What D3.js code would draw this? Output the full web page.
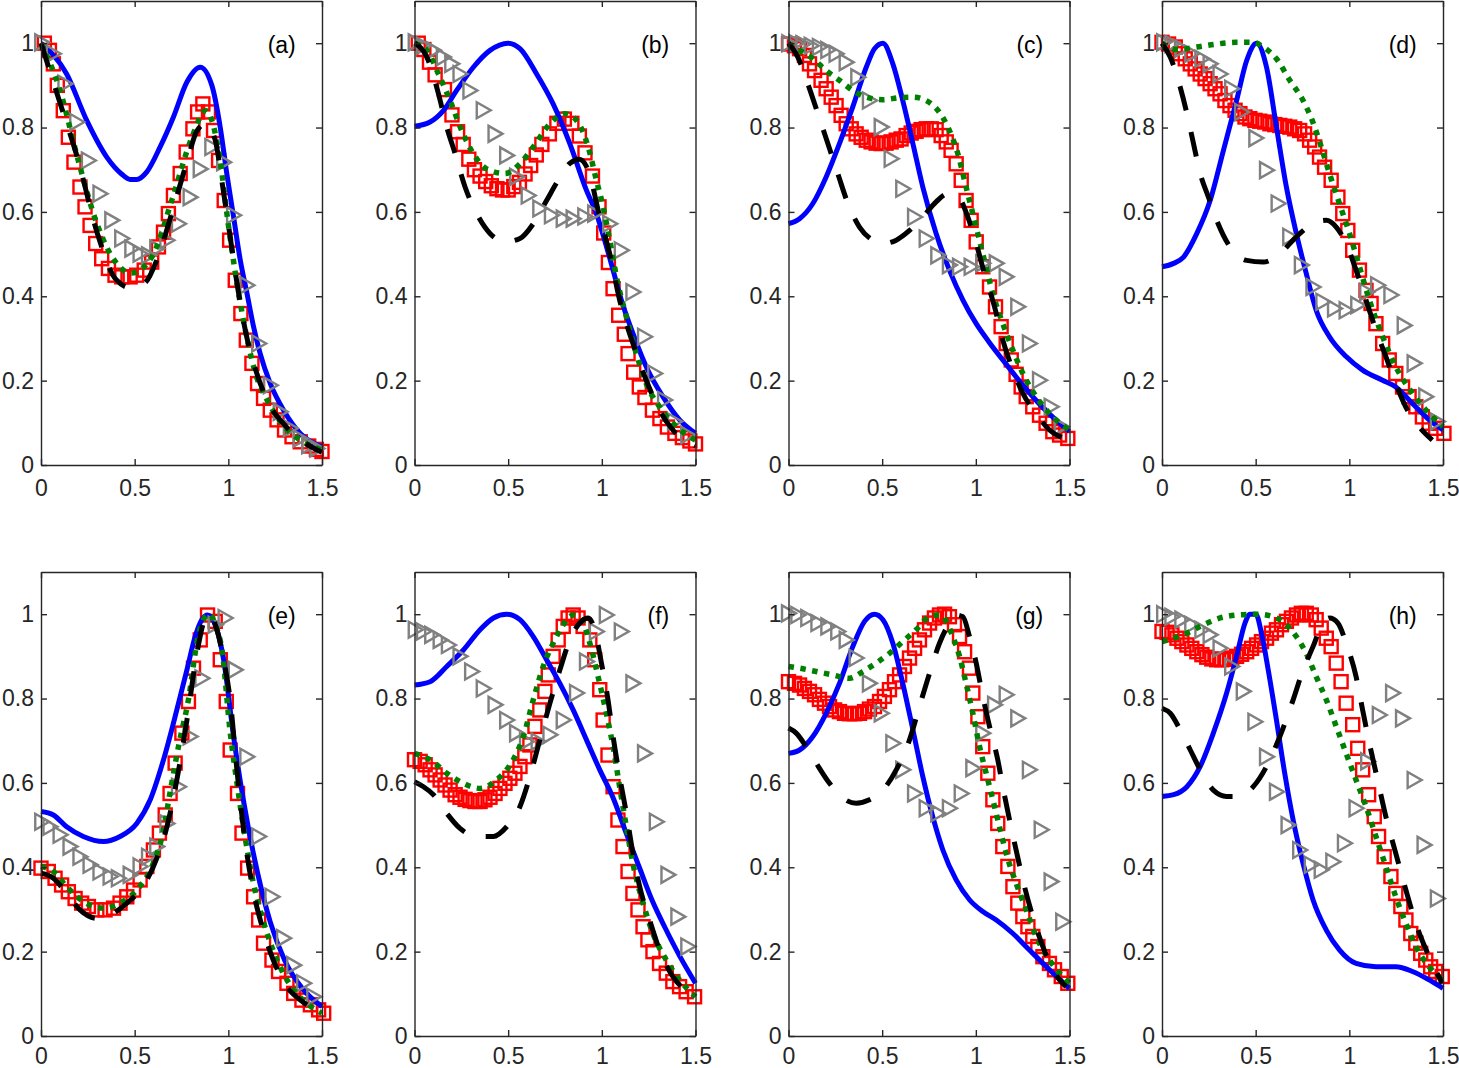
<!DOCTYPE html>
<html><head><meta charset="utf-8">
<script src="https://cdn.jsdelivr.net/npm/d3@7"></script>
<style>body{margin:0;background:#fff}</style>
</head><body><svg id="chart" width="1459" height="1068"></svg>
<script>
// ---------- tick definitions ----------
const xTicks = [0, 0.5, 1, 1.5];
const xTickLabels = ["0", "0.5", "1", "1.5"];
const yTicks = [0, 0.2, 0.4, 0.6, 0.8, 1];
const yTickLabels = ["0", "0.2", "0.4", "0.6", "0.8", "1"];
const panelLabels = ["(a)", "(b)", "(c)", "(d)", "(e)", "(f)", "(g)", "(h)"];

// ---------- panel (a) ----------
const blueA = [[0,1.0],[0.137,0.927],[0.244,0.817],[0.351,0.73],[0.43,0.69],[0.476,0.677],[0.511,0.677],[0.565,0.695],[0.636,0.754],[0.707,0.825],[0.779,0.908],[0.85,0.943],[0.912,0.9],[0.957,0.8],[0.992,0.69],[1.028,0.588],[1.064,0.485],[1.1,0.406],[1.135,0.327],[1.17,0.264],[1.224,0.193],[1.295,0.13],[1.384,0.075],[1.5,0.043]];
const blackA = [[0,1.0],[0.093,0.87],[0.2,0.72],[0.3,0.55],[0.4,0.44],[0.48,0.42],[0.55,0.43],[0.63,0.5],[0.7,0.6],[0.78,0.72],[0.83,0.79],[0.88,0.81],[0.93,0.77],[0.97,0.66],[1.01,0.54],[1.05,0.42],[1.1,0.3],[1.15,0.22],[1.2,0.16],[1.3,0.095],[1.4,0.055],[1.5,0.03]];
const greenA = [[0,1.0],[0.1,0.89],[0.2,0.72],[0.3,0.57],[0.4,0.48],[0.48,0.455],[0.55,0.47],[0.6,0.5],[0.7,0.63],[0.8,0.77],[0.88,0.84],[0.95,0.74],[1.0,0.57],[1.05,0.42],[1.1,0.3],[1.15,0.21],[1.2,0.16],[1.3,0.09],[1.4,0.055],[1.5,0.035]];
const redA = [[0.018,1.0],[0.045,0.983],[0.066,0.951],[0.087,0.9],[0.119,0.84],[0.146,0.777],[0.176,0.718],[0.208,0.659],[0.235,0.612],[0.262,0.568],[0.292,0.525],[0.324,0.489],[0.36,0.466],[0.395,0.45],[0.431,0.446],[0.476,0.446],[0.511,0.45],[0.551,0.462],[0.591,0.481],[0.627,0.517],[0.654,0.552],[0.68,0.596],[0.707,0.639],[0.743,0.691],[0.775,0.742],[0.811,0.797],[0.836,0.837],[0.864,0.856],[0.894,0.837],[0.921,0.793],[0.948,0.722],[0.978,0.627],[1.007,0.533],[1.037,0.438],[1.067,0.359],[1.096,0.296],[1.126,0.241],[1.156,0.193],[1.188,0.158],[1.224,0.13],[1.26,0.107],[1.3,0.083],[1.34,0.067],[1.384,0.055],[1.429,0.045],[1.47,0.037],[1.5,0.032]];
const triA = [[0.004,1.002],[0.066,0.975],[0.128,0.904],[0.191,0.813],[0.253,0.722],[0.315,0.643],[0.378,0.58],[0.431,0.537],[0.485,0.513],[0.529,0.501],[0.574,0.497],[0.618,0.513],[0.672,0.533],[0.734,0.572],[0.796,0.635],[0.85,0.702],[0.912,0.754],[0.975,0.718],[1.028,0.592],[1.099,0.426],[1.162,0.288],[1.224,0.189],[1.277,0.126],[1.331,0.087],[1.384,0.063],[1.429,0.047],[1.473,0.039]];

// ---------- panel (b) ----------
const blueB = [[0,0.803],[0.083,0.813],[0.154,0.84],[0.225,0.888],[0.314,0.943],[0.403,0.983],[0.5,1.0],[0.563,0.987],[0.652,0.927],[0.74,0.856],[0.829,0.762],[0.918,0.651],[0.971,0.596],[1.015,0.533],[1.06,0.462],[1.104,0.391],[1.166,0.312],[1.237,0.233],[1.326,0.162],[1.415,0.107],[1.5,0.075]];
const blackB = [[0,1.0],[0.066,0.967],[0.128,0.88],[0.172,0.801],[0.217,0.738],[0.27,0.659],[0.332,0.596],[0.403,0.549],[0.483,0.529],[0.563,0.537],[0.634,0.572],[0.705,0.627],[0.767,0.675],[0.829,0.715],[0.88,0.725],[0.927,0.699],[0.989,0.588],[1.042,0.501],[1.095,0.391],[1.166,0.288],[1.237,0.201],[1.308,0.13],[1.379,0.083],[1.5,0.045]];
const greenB = [[0,1.0],[0.066,0.983],[0.128,0.927],[0.19,0.864],[0.252,0.793],[0.314,0.738],[0.385,0.702],[0.483,0.691],[0.563,0.714],[0.634,0.754],[0.723,0.809],[0.802,0.833],[0.865,0.817],[0.927,0.754],[0.971,0.675],[1.007,0.612],[1.042,0.533],[1.078,0.446],[1.131,0.351],[1.184,0.264],[1.237,0.193],[1.308,0.138],[1.379,0.099],[1.5,0.059]];
const redB = [[0.02,1.0],[0.05,0.985],[0.08,0.955],[0.11,0.925],[0.16,0.89],[0.2,0.83],[0.23,0.79],[0.26,0.76],[0.29,0.725],[0.32,0.7],[0.35,0.685],[0.38,0.672],[0.41,0.662],[0.44,0.655],[0.47,0.652],[0.5,0.652],[0.53,0.66],[0.56,0.67],[0.59,0.69],[0.62,0.71],[0.65,0.735],[0.68,0.76],[0.72,0.785],[0.76,0.81],[0.8,0.82],[0.84,0.81],[0.88,0.78],[0.91,0.74],[0.95,0.685],[0.985,0.612],[1.01,0.55],[1.035,0.48],[1.06,0.418],[1.09,0.355],[1.12,0.31],[1.14,0.264],[1.17,0.22],[1.2,0.185],[1.23,0.16],[1.27,0.13],[1.31,0.11],[1.35,0.09],[1.39,0.075],[1.43,0.065],[1.47,0.057],[1.5,0.05]];
const triB = [[0.004,1.002],[0.048,0.994],[0.101,0.983],[0.154,0.967],[0.199,0.951],[0.243,0.927],[0.296,0.888],[0.367,0.841],[0.43,0.785],[0.492,0.734],[0.545,0.683],[0.607,0.639],[0.669,0.608],[0.731,0.592],[0.794,0.584],[0.847,0.584],[0.909,0.589],[0.962,0.596],[1.042,0.572],[1.104,0.509],[1.166,0.41],[1.228,0.304],[1.282,0.217],[1.335,0.154],[1.388,0.103],[1.459,0.071]];

// ---------- panel (c) ----------
const blueC = [[0,0.572],[0.059,0.584],[0.13,0.62],[0.201,0.683],[0.272,0.762],[0.343,0.849],[0.415,0.943],[0.459,0.987],[0.504,1.0],[0.557,0.951],[0.61,0.864],[0.664,0.762],[0.717,0.659],[0.788,0.549],[0.859,0.462],[0.931,0.391],[1.002,0.335],[1.073,0.29],[1.16,0.24],[1.25,0.19],[1.36,0.135],[1.5,0.079]];
const blackC = [[0,1.0],[0.05,0.967],[0.103,0.904],[0.157,0.833],[0.21,0.762],[0.263,0.691],[0.317,0.62],[0.379,0.564],[0.45,0.533],[0.504,0.525],[0.575,0.533],[0.646,0.556],[0.717,0.588],[0.788,0.624],[0.851,0.643],[0.913,0.631],[0.957,0.588],[1.002,0.525],[1.046,0.454],[1.1,0.375],[1.144,0.296],[1.198,0.225],[1.251,0.17],[1.322,0.122],[1.393,0.083],[1.5,0.06]];
const greenC = [[0,1.0],[0.059,0.983],[0.13,0.963],[0.201,0.935],[0.272,0.912],[0.343,0.888],[0.415,0.872],[0.504,0.866],[0.593,0.871],[0.664,0.872],[0.735,0.864],[0.797,0.841],[0.859,0.793],[0.904,0.738],[0.948,0.659],[0.993,0.58],[1.037,0.501],[1.091,0.406],[1.144,0.335],[1.198,0.272],[1.251,0.217],[1.322,0.162],[1.393,0.122],[1.5,0.083]];
const redC = [[0,0.998],[0.032,0.994],[0.059,0.987],[0.085,0.971],[0.112,0.951],[0.139,0.935],[0.174,0.912],[0.201,0.892],[0.228,0.872],[0.254,0.852],[0.281,0.829],[0.308,0.809],[0.335,0.797],[0.361,0.785],[0.388,0.777],[0.415,0.77],[0.441,0.766],[0.468,0.763],[0.495,0.762],[0.521,0.763],[0.548,0.766],[0.575,0.77],[0.601,0.773],[0.628,0.781],[0.655,0.787],[0.681,0.791],[0.708,0.795],[0.735,0.797],[0.762,0.797],[0.788,0.795],[0.815,0.781],[0.842,0.766],[0.868,0.746],[0.895,0.714],[0.922,0.675],[0.948,0.627],[0.975,0.58],[1.002,0.529],[1.037,0.47],[1.073,0.422],[1.105,0.375],[1.135,0.328],[1.162,0.288],[1.189,0.249],[1.215,0.215],[1.242,0.185],[1.269,0.162],[1.304,0.138],[1.34,0.118],[1.375,0.099],[1.411,0.079],[1.447,0.071],[1.491,0.063]];
const triC = [[0.002,1.0],[0.041,1.0],[0.077,0.998],[0.121,0.994],[0.165,0.991],[0.21,0.984],[0.254,0.975],[0.308,0.955],[0.37,0.919],[0.432,0.864],[0.495,0.801],[0.548,0.726],[0.61,0.655],[0.673,0.588],[0.735,0.537],[0.797,0.497],[0.859,0.474],[0.913,0.47],[0.975,0.47],[1.037,0.478],[1.109,0.478],[1.162,0.446],[1.224,0.375],[1.286,0.288],[1.34,0.201],[1.402,0.138],[1.456,0.091]];

// ---------- panel (d) ----------
const blueD = [[0,0.47],[0.062,0.478],[0.115,0.493],[0.186,0.549],[0.257,0.627],[0.328,0.746],[0.398,0.864],[0.452,0.959],[0.505,1.0],[0.558,0.943],[0.611,0.801],[0.664,0.659],[0.717,0.549],[0.77,0.454],[0.823,0.367],[0.894,0.304],[0.983,0.257],[1.071,0.225],[1.177,0.201],[1.248,0.185],[1.337,0.146],[1.426,0.107],[1.5,0.083]];
const blackD = [[0,1.0],[0.044,0.967],[0.097,0.896],[0.133,0.833],[0.168,0.762],[0.204,0.691],[0.248,0.635],[0.292,0.58],[0.363,0.517],[0.452,0.485],[0.54,0.481],[0.629,0.501],[0.717,0.541],[0.806,0.572],[0.877,0.58],[0.93,0.564],[0.983,0.525],[1.036,0.462],[1.089,0.391],[1.142,0.32],[1.195,0.257],[1.248,0.193],[1.301,0.138],[1.372,0.091],[1.443,0.059]];
const greenD = [[0,1.0],[0.08,0.985],[0.186,0.991],[0.292,0.998],[0.398,1.002],[0.487,1.002],[0.54,0.991],[0.611,0.963],[0.682,0.912],[0.753,0.864],[0.806,0.812],[0.85,0.754],[0.894,0.691],[0.947,0.62],[1.001,0.549],[1.054,0.47],[1.107,0.391],[1.178,0.304],[1.248,0.233],[1.337,0.17],[1.426,0.122],[1.5,0.091]];
const redD = [[0,1.002],[0.035,0.998],[0.071,0.991],[0.097,0.975],[0.124,0.963],[0.151,0.951],[0.177,0.939],[0.204,0.927],[0.23,0.916],[0.257,0.904],[0.283,0.892],[0.31,0.88],[0.336,0.864],[0.363,0.852],[0.39,0.841],[0.416,0.833],[0.443,0.825],[0.469,0.821],[0.496,0.817],[0.522,0.815],[0.549,0.813],[0.576,0.809],[0.602,0.807],[0.629,0.805],[0.655,0.803],[0.682,0.801],[0.708,0.797],[0.735,0.793],[0.761,0.785],[0.788,0.77],[0.815,0.754],[0.841,0.73],[0.868,0.706],[0.903,0.675],[0.939,0.635],[0.965,0.596],[0.992,0.556],[1.018,0.509],[1.054,0.462],[1.089,0.414],[1.116,0.383],[1.142,0.335],[1.178,0.288],[1.213,0.249],[1.248,0.217],[1.284,0.185],[1.319,0.162],[1.355,0.138],[1.39,0.114],[1.426,0.099],[1.461,0.087],[1.505,0.075]];
const triD = [[0.009,1.002],[0.053,0.998],[0.106,0.987],[0.159,0.975],[0.213,0.963],[0.257,0.951],[0.31,0.927],[0.372,0.892],[0.425,0.837],[0.501,0.775],[0.558,0.699],[0.62,0.62],[0.682,0.541],[0.744,0.474],[0.806,0.422],[0.859,0.387],[0.921,0.371],[0.983,0.367],[1.045,0.379],[1.093,0.41],[1.151,0.426],[1.222,0.403],[1.293,0.331],[1.346,0.241],[1.408,0.162],[1.47,0.103]];

// ---------- panel (e) ----------
const blueE = [[0,0.532],[0.066,0.524],[0.137,0.496],[0.226,0.473],[0.333,0.461],[0.422,0.473],[0.511,0.504],[0.583,0.56],[0.654,0.655],[0.725,0.773],[0.779,0.868],[0.823,0.947],[0.859,0.987],[0.889,0.998],[0.93,0.975],[0.975,0.892],[1.028,0.71],[1.08,0.56],[1.135,0.43],[1.224,0.27],[1.3,0.18],[1.4,0.11],[1.5,0.07]];
const blackE = [[0,0.386],[0.066,0.374],[0.137,0.338],[0.208,0.299],[0.298,0.279],[0.387,0.291],[0.458,0.315],[0.529,0.346],[0.6,0.402],[0.672,0.496],[0.725,0.607],[0.779,0.749],[0.832,0.907],[0.877,0.99],[0.903,0.998],[0.939,0.963],[0.975,0.892],[1.01,0.797],[1.046,0.63],[1.09,0.46],[1.135,0.34],[1.18,0.26],[1.24,0.18],[1.3,0.125],[1.4,0.08],[1.5,0.055]];
const greenE = [[0,0.402],[0.066,0.39],[0.137,0.354],[0.226,0.319],[0.333,0.303],[0.422,0.315],[0.511,0.346],[0.6,0.41],[0.65,0.48],[0.69,0.58],[0.74,0.7],[0.787,0.797],[0.832,0.931],[0.87,0.99],[0.9,1.0],[0.93,0.975],[0.966,0.915],[1.01,0.72],[1.046,0.6],[1.09,0.47],[1.135,0.36],[1.188,0.27],[1.26,0.18],[1.331,0.12],[1.42,0.077],[1.5,0.054]];
const redE = [[0,0.398],[0.039,0.39],[0.075,0.374],[0.11,0.358],[0.146,0.342],[0.182,0.326],[0.217,0.315],[0.253,0.307],[0.298,0.299],[0.342,0.299],[0.387,0.303],[0.422,0.315],[0.458,0.33],[0.494,0.346],[0.529,0.37],[0.565,0.402],[0.6,0.441],[0.632,0.481],[0.663,0.524],[0.689,0.575],[0.716,0.647],[0.752,0.718],[0.787,0.793],[0.814,0.872],[0.85,0.939],[0.889,0.998],[0.93,0.983],[0.957,0.892],[0.989,0.793],[1.01,0.678],[1.049,0.575],[1.073,0.481],[1.103,0.398],[1.135,0.33],[1.162,0.275],[1.188,0.22],[1.233,0.18],[1.268,0.153],[1.313,0.125],[1.349,0.101],[1.393,0.085],[1.438,0.074],[1.482,0.062],[1.509,0.054]];
const triE = [[0.004,0.508],[0.048,0.496],[0.102,0.477],[0.155,0.449],[0.208,0.425],[0.262,0.406],[0.315,0.39],[0.369,0.378],[0.413,0.374],[0.476,0.382],[0.529,0.402],[0.574,0.425],[0.618,0.449],[0.672,0.504],[0.734,0.591],[0.796,0.71],[0.859,0.848],[0.93,0.975],[0.983,0.991],[1.037,0.868],[1.099,0.662],[1.162,0.473],[1.233,0.33],[1.295,0.232],[1.349,0.168],[1.402,0.125],[1.456,0.093]];

// ---------- panel (f) ----------
const blueF = [[0,0.832],[0.083,0.84],[0.172,0.876],[0.261,0.915],[0.35,0.963],[0.421,0.991],[0.492,1.0],[0.563,0.987],[0.634,0.947],[0.705,0.892],[0.776,0.836],[0.847,0.773],[0.918,0.702],[0.989,0.631],[1.06,0.565],[1.131,0.48],[1.2,0.4],[1.27,0.32],[1.335,0.259],[1.415,0.19],[1.5,0.125]];
const blackF = [[0,0.603],[0.048,0.591],[0.101,0.572],[0.172,0.528],[0.243,0.492],[0.332,0.473],[0.421,0.473],[0.492,0.496],[0.563,0.544],[0.616,0.615],[0.669,0.702],[0.723,0.789],[0.776,0.868],[0.829,0.939],[0.882,0.979],[0.927,0.991],[0.962,0.963],[0.998,0.884],[1.033,0.797],[1.06,0.71],[1.095,0.615],[1.131,0.528],[1.166,0.433],[1.202,0.354],[1.255,0.275],[1.308,0.204],[1.379,0.141],[1.468,0.101]];
const greenF = [[0,0.67],[0.083,0.655],[0.172,0.623],[0.261,0.599],[0.35,0.587],[0.438,0.607],[0.527,0.655],[0.581,0.71],[0.634,0.797],[0.687,0.876],[0.74,0.931],[0.794,0.975],[0.847,0.998],[0.891,0.987],[0.936,0.931],[0.98,0.852],[1.024,0.765],[1.06,0.686],[1.095,0.591],[1.131,0.496],[1.166,0.409],[1.22,0.315],[1.273,0.243],[1.344,0.18],[1.415,0.133],[1.5,0.093]];
const redF = [[0,0.655],[0.03,0.651],[0.057,0.643],[0.083,0.631],[0.11,0.619],[0.137,0.607],[0.163,0.595],[0.19,0.583],[0.217,0.572],[0.243,0.566],[0.27,0.561],[0.296,0.558],[0.323,0.556],[0.35,0.556],[0.376,0.56],[0.403,0.566],[0.43,0.575],[0.456,0.587],[0.483,0.599],[0.509,0.611],[0.536,0.623],[0.563,0.639],[0.589,0.662],[0.616,0.69],[0.643,0.734],[0.669,0.773],[0.696,0.817],[0.714,0.856],[0.74,0.9],[0.767,0.939],[0.794,0.971],[0.82,0.991],[0.847,0.998],[0.873,0.991],[0.9,0.971],[0.936,0.939],[0.962,0.892],[0.989,0.821],[1.007,0.749],[1.033,0.666],[1.06,0.591],[1.086,0.512],[1.113,0.449],[1.14,0.39],[1.166,0.338],[1.193,0.299],[1.22,0.259],[1.246,0.228],[1.273,0.2],[1.308,0.172],[1.344,0.149],[1.379,0.129],[1.415,0.117],[1.45,0.105],[1.495,0.093]];
const triF = [[0.004,0.963],[0.048,0.959],[0.092,0.951],[0.137,0.939],[0.181,0.927],[0.243,0.9],[0.305,0.864],[0.367,0.824],[0.43,0.785],[0.492,0.749],[0.545,0.718],[0.598,0.698],[0.66,0.698],[0.723,0.714],[0.794,0.749],[0.865,0.813],[0.918,0.888],[0.971,0.959],[1.024,0.998],[1.104,0.959],[1.166,0.836],[1.228,0.67],[1.291,0.508],[1.353,0.382],[1.406,0.283],[1.459,0.212]];

// ---------- panel (g) ----------
const blueG = [[0,0.67],[0.059,0.678],[0.13,0.71],[0.201,0.765],[0.272,0.836],[0.343,0.923],[0.406,0.983],[0.459,1.0],[0.504,0.987],[0.557,0.931],[0.61,0.836],[0.664,0.726],[0.717,0.615],[0.77,0.52],[0.824,0.441],[0.895,0.37],[0.966,0.323],[1.037,0.295],[1.109,0.275],[1.198,0.243],[1.286,0.204],[1.393,0.157],[1.5,0.113]];
const blackG = [[0,0.73],[0.041,0.718],[0.094,0.686],[0.148,0.647],[0.219,0.599],[0.29,0.564],[0.361,0.552],[0.432,0.56],[0.504,0.583],[0.575,0.631],[0.646,0.702],[0.699,0.781],[0.753,0.86],[0.806,0.931],[0.859,0.979],[0.895,0.998],[0.931,0.994],[0.966,0.947],[1.002,0.884],[1.037,0.805],[1.073,0.734],[1.117,0.655],[1.144,0.591],[1.18,0.512],[1.215,0.441],[1.251,0.37],[1.304,0.283],[1.358,0.212],[1.411,0.157],[1.482,0.117]];
const greenG = [[0,0.876],[0.059,0.872],[0.148,0.864],[0.237,0.856],[0.326,0.848],[0.397,0.864],[0.468,0.884],[0.539,0.907],[0.61,0.935],[0.681,0.963],[0.753,0.994],[0.806,0.998],[0.842,0.983],[0.877,0.947],[0.913,0.9],[0.948,0.836],[0.984,0.765],[1.02,0.686],[1.055,0.623],[1.091,0.56],[1.126,0.496],[1.162,0.433],[1.215,0.362],[1.269,0.299],[1.322,0.236],[1.393,0.18],[1.5,0.125]];
const redG = [[0,0.84],[0.032,0.836],[0.059,0.832],[0.085,0.824],[0.112,0.817],[0.139,0.809],[0.165,0.798],[0.192,0.789],[0.219,0.781],[0.246,0.773],[0.272,0.769],[0.299,0.765],[0.326,0.764],[0.352,0.764],[0.379,0.765],[0.406,0.769],[0.432,0.775],[0.459,0.781],[0.486,0.793],[0.512,0.805],[0.539,0.821],[0.566,0.84],[0.593,0.856],[0.619,0.876],[0.646,0.896],[0.673,0.919],[0.699,0.939],[0.726,0.963],[0.753,0.979],[0.779,0.991],[0.806,0.998],[0.833,1.0],[0.859,0.994],[0.886,0.975],[0.913,0.947],[0.94,0.911],[0.966,0.872],[0.984,0.813],[1.011,0.757],[1.037,0.686],[1.064,0.623],[1.091,0.56],[1.117,0.504],[1.144,0.449],[1.171,0.402],[1.198,0.354],[1.224,0.315],[1.251,0.283],[1.278,0.259],[1.304,0.236],[1.331,0.212],[1.358,0.188],[1.393,0.172],[1.42,0.157],[1.456,0.141],[1.491,0.125]];
const triG = [[0,1.002],[0.05,0.998],[0.103,0.991],[0.157,0.979],[0.21,0.971],[0.263,0.959],[0.308,0.939],[0.361,0.896],[0.432,0.836],[0.495,0.765],[0.557,0.694],[0.61,0.631],[0.673,0.575],[0.735,0.54],[0.797,0.528],[0.859,0.54],[0.922,0.575],[0.984,0.635],[1.037,0.718],[1.1,0.785],[1.162,0.809],[1.224,0.753],[1.286,0.631],[1.349,0.489],[1.402,0.366],[1.464,0.271]];

// ---------- panel (h) ----------
const blueH = [[0,0.568],[0.062,0.572],[0.133,0.591],[0.204,0.639],[0.274,0.718],[0.345,0.813],[0.398,0.9],[0.443,0.979],[0.469,1.0],[0.501,1.0],[0.531,0.955],[0.567,0.868],[0.611,0.749],[0.655,0.623],[0.7,0.512],[0.753,0.409],[0.806,0.323],[0.877,0.251],[0.947,0.204],[1.036,0.172],[1.142,0.164],[1.248,0.164],[1.337,0.153],[1.426,0.133],[1.5,0.113]];
const blackH = [[0,0.777],[0.044,0.765],[0.097,0.726],[0.151,0.678],[0.204,0.631],[0.274,0.583],[0.345,0.568],[0.416,0.568],[0.487,0.591],[0.558,0.639],[0.629,0.71],[0.7,0.797],[0.753,0.868],[0.806,0.923],[0.85,0.971],[0.894,0.991],[0.939,0.979],[0.983,0.931],[1.036,0.852],[1.071,0.773],[1.107,0.694],[1.151,0.607],[1.195,0.52],[1.248,0.433],[1.302,0.346],[1.355,0.267],[1.426,0.188],[1.496,0.125]];
const greenH = [[0,0.935],[0.062,0.943],[0.133,0.955],[0.221,0.975],[0.31,0.991],[0.398,0.998],[0.505,1.0],[0.593,0.994],[0.664,0.975],[0.717,0.947],[0.77,0.907],[0.823,0.852],[0.877,0.797],[0.93,0.734],[0.983,0.67],[1.036,0.607],[1.089,0.544],[1.142,0.473],[1.195,0.402],[1.248,0.33],[1.302,0.267],[1.355,0.212],[1.426,0.164],[1.5,0.133]];
const redH = [[0,0.959],[0.027,0.957],[0.053,0.951],[0.08,0.943],[0.106,0.935],[0.133,0.927],[0.159,0.919],[0.186,0.911],[0.213,0.904],[0.239,0.898],[0.266,0.894],[0.292,0.892],[0.319,0.892],[0.345,0.893],[0.372,0.896],[0.398,0.9],[0.425,0.905],[0.452,0.911],[0.478,0.919],[0.505,0.927],[0.531,0.935],[0.558,0.943],[0.584,0.955],[0.611,0.963],[0.638,0.975],[0.664,0.983],[0.691,0.991],[0.718,0.998],[0.744,1.002],[0.77,1.002],[0.797,0.998],[0.823,0.987],[0.85,0.967],[0.877,0.943],[0.903,0.923],[0.93,0.884],[0.956,0.84],[0.983,0.789],[1.018,0.738],[1.045,0.682],[1.071,0.631],[1.103,0.572],[1.133,0.52],[1.156,0.473],[1.186,0.425],[1.222,0.378],[1.248,0.338],[1.275,0.307],[1.302,0.275],[1.328,0.243],[1.355,0.22],[1.381,0.196],[1.408,0.18],[1.434,0.164],[1.461,0.153],[1.496,0.141]];
const triH = [[0.009,1.0],[0.053,0.994],[0.106,0.987],[0.159,0.975],[0.213,0.963],[0.257,0.951],[0.31,0.919],[0.372,0.876],[0.434,0.817],[0.496,0.745],[0.558,0.662],[0.611,0.579],[0.673,0.5],[0.735,0.441],[0.797,0.406],[0.85,0.394],[0.912,0.413],[0.974,0.457],[1.036,0.54],[1.098,0.651],[1.16,0.761],[1.231,0.813],[1.284,0.753],[1.346,0.607],[1.399,0.453],[1.47,0.326]];

// ---------- assemble ----------
const panels = [
  {label: panelLabels[0], blue: blueA, black: blackA, green: greenA, red: redA, tri: triA},
  {label: panelLabels[1], blue: blueB, black: blackB, green: greenB, red: redB, tri: triB},
  {label: panelLabels[2], blue: blueC, black: blackC, green: greenC, red: redC, tri: triC},
  {label: panelLabels[3], blue: blueD, black: blackD, green: greenD, red: redD, tri: triD},
  {label: panelLabels[4], blue: blueE, black: blackE, green: greenE, red: redE, tri: triE},
  {label: panelLabels[5], blue: blueF, black: blackF, green: greenF, red: redF, tri: triF},
  {label: panelLabels[6], blue: blueG, black: blackG, green: greenG, red: redG, tri: triG},
  {label: panelLabels[7], blue: blueH, black: blackH, green: greenH, red: redH, tri: triH}
];

const colLeft = [41, 414.5, 788.5, 1162];
const rowTop = [1, 572];
const xLabelPad = [15, 12];
const pw = 281, ph = 464;
const axisColor = "#262626";
const fontFamily = "'Liberation Sans', Arial, Helvetica, sans-serif";
const fontSize = 23;

const svg = d3.select("#chart");
svg.append("rect").attr("width", 1459).attr("height", 1068).attr("fill", "#fff");

panels.forEach((p, i) => {
  const row = Math.floor(i / 4);
  const left = colLeft[i % 4], top = rowTop[row];
  const x = d3.scaleLinear().domain([0, 1.5]).range([left, left + pw]);
  const y = d3.scaleLinear().domain([0, 1.1]).range([top + ph, top]);
  const g = svg.append("g");

  const line = d3.line().x(d => x(d[0])).y(d => y(d[1])).curve(d3.curveMonotoneX);

  // red squares
  g.append("g").selectAll("rect").data(p.red).join("rect")
    .attr("x", d => x(d[0]) - 6.5).attr("y", d => y(d[1]) - 6.5)
    .attr("width", 13).attr("height", 13)
    .attr("fill", "none").attr("stroke", "#ff0000").attr("stroke-width", 2.4);

  // blue solid
  g.append("path").datum(p.blue).attr("d", line)
    .attr("fill", "none").attr("stroke", "#0000ff").attr("stroke-width", 5)
    .attr("stroke-linejoin", "round");

  // gray triangles (pointing right)
  g.append("g").selectAll("path").data(p.tri).join("path")
    .attr("d", "M-6.5,-8L7.5,0L-6.5,8Z")
    .attr("transform", d => `translate(${x(d[0])},${y(d[1])})`)
    .attr("fill", "none").attr("stroke", "#808080").attr("stroke-width", 2.4)
    .attr("stroke-linejoin", "miter");

  // green dotted
  g.append("path").datum(p.green).attr("d", line)
    .attr("fill", "none").attr("stroke", "#008000").attr("stroke-width", 5.5)
    .attr("stroke-dasharray", "5.5,6.5");

  // black dashed
  g.append("path").datum(p.black).attr("d", line)
    .attr("fill", "none").attr("stroke", "#000").attr("stroke-width", 5)
    .attr("stroke-dasharray", "25,22");

  // axes (box with inward ticks)
  const styleAxis = sel => {
    sel.attr("font-family", fontFamily).attr("font-size", fontSize);
    sel.selectAll("path.domain").attr("stroke", axisColor).attr("stroke-width", 1.4);
    sel.selectAll(".tick line").attr("stroke", axisColor).attr("stroke-width", 1.4);
    sel.selectAll(".tick text").attr("fill", axisColor);
  };
  svg.append("g").attr("transform", `translate(0,${top + ph})`)
    .call(d3.axisBottom(x).tickValues(xTicks).tickFormat((d, k) => xTickLabels[k])
      .tickSizeInner(-6).tickSizeOuter(0).tickPadding(xLabelPad[row]))
    .call(styleAxis);
  svg.append("g").attr("transform", `translate(0,${top})`)
    .call(d3.axisTop(x).tickValues(xTicks).tickFormat("").tickSizeInner(-6).tickSizeOuter(0))
    .call(styleAxis);
  svg.append("g").attr("transform", `translate(${left},0)`)
    .call(d3.axisLeft(y).tickValues(yTicks).tickFormat((d, k) => yTickLabels[k])
      .tickSizeInner(-6).tickSizeOuter(0).tickPadding(7))
    .call(styleAxis);
  svg.append("g").attr("transform", `translate(${left + pw},0)`)
    .call(d3.axisRight(y).tickValues(yTicks).tickFormat("").tickSizeInner(-6).tickSizeOuter(0))
    .call(styleAxis);

  // panel label
  svg.append("text")
    .attr("x", x(1.36)).attr("y", y(0.995))
    .attr("text-anchor", "end").attr("dominant-baseline", "central")
    .attr("font-family", fontFamily).attr("font-size", fontSize).attr("fill", "#000")
    .text(p.label);
});
</script>
</body></html>
